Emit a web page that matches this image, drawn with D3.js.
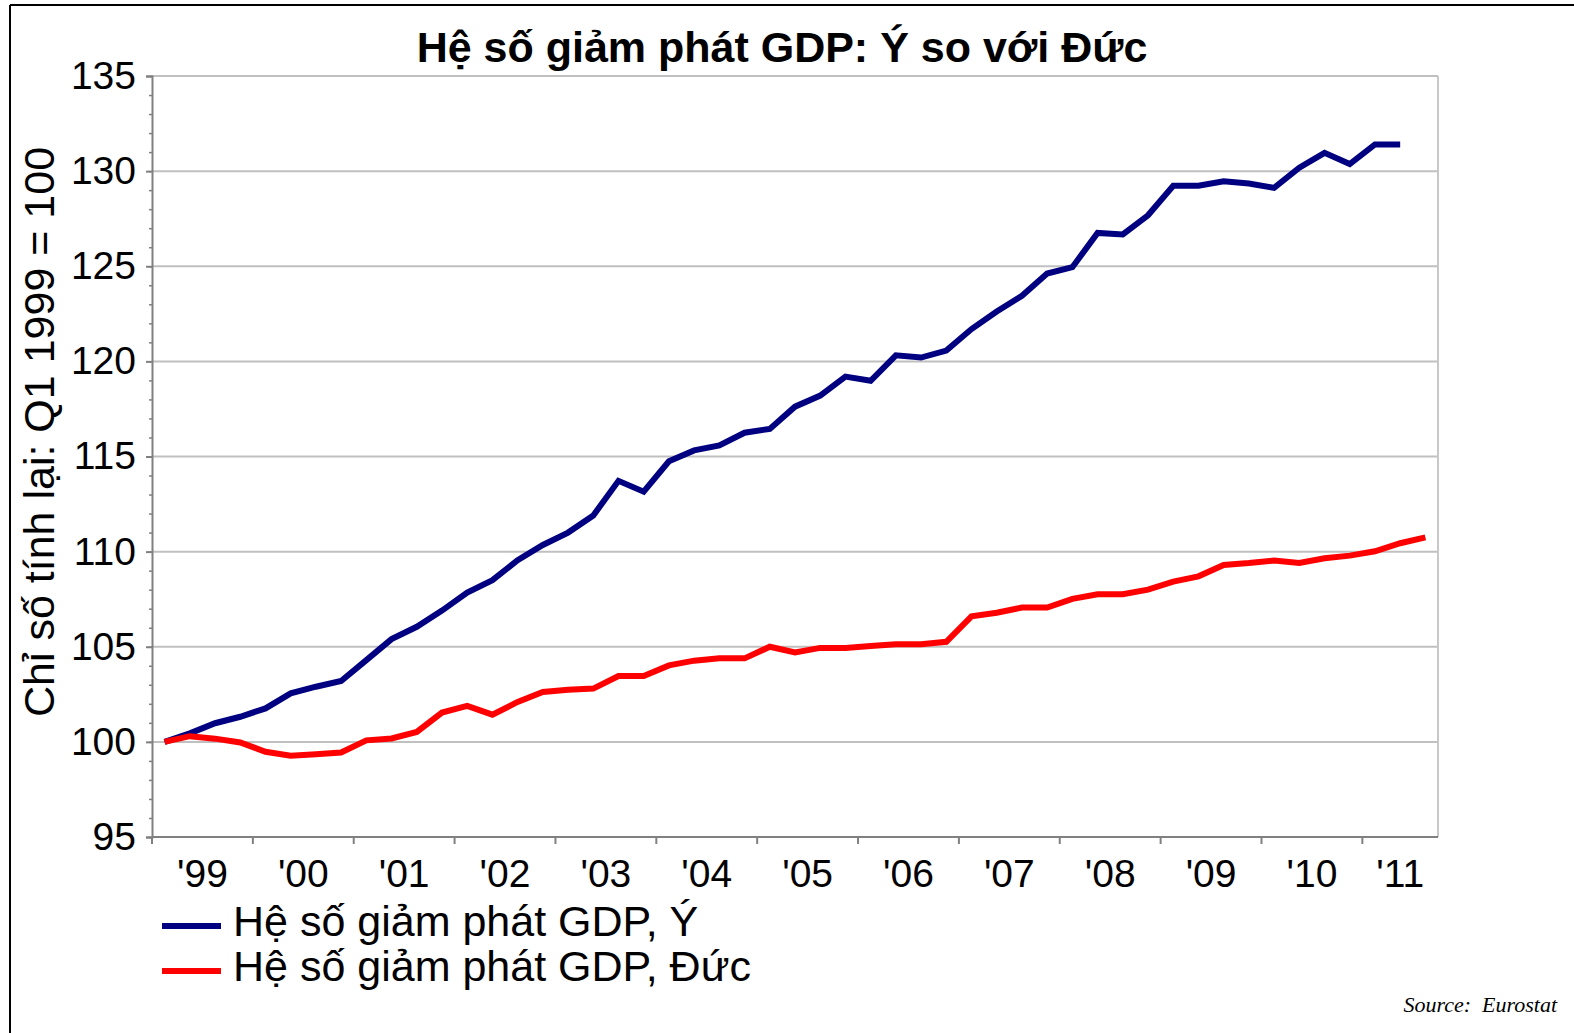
<!DOCTYPE html>
<html>
<head>
<meta charset="utf-8">
<script src="https://cdn.jsdelivr.net/npm/d3@7"></script>
<style>
  body { margin: 0; background: #fff; }
  svg { display: block; font-family: Arial, "Liberation Sans", sans-serif; }
</style>
</head>
<body>
<svg id="chart"></svg>
<script>
// Quarterly GDP deflator, Q1 1999 = 100
const years = ["'99", "'00", "'01", "'02", "'03", "'04", "'05", "'06", "'07", "'08", "'09", "'10", "'11"];
const quartersShown = 51; // Q1 1999 .. Q3 2011

const italy = [100.0, 100.45, 100.98, 101.32, 101.76, 102.55, 102.9, 103.2, 104.3, 105.4,
    106.05, 106.9, 107.85, 108.5, 109.55, 110.35, 111.0, 111.9, 113.72, 113.15,
    114.75, 115.32, 115.58, 116.25, 116.45, 117.62, 118.2, 119.2, 118.98, 120.32,
    120.2, 120.57, 121.7, 122.62, 123.45, 124.62, 124.95, 126.75, 126.67, 127.68,
    129.23, 129.23, 129.47, 129.35, 129.12, 130.18, 130.96, 130.37, 131.4, 131.4];

const germany = [100.0, 100.3, 100.17, 99.97, 99.48, 99.27, 99.35, 99.44, 100.08, 100.18,
    100.52, 101.54, 101.89, 101.43, 102.1, 102.62, 102.74, 102.8, 103.46, 103.46,
    104.02, 104.27, 104.39, 104.39, 105.0, 104.7, 104.94, 104.94, 105.04, 105.13,
    105.13, 105.26, 106.6, 106.79, 107.06, 107.06, 107.52, 107.76, 107.76, 108.0,
    108.42, 108.7, 109.3, 109.4, 109.53, 109.4, 109.65, 109.79, 110.02, 110.44, 110.75];

const seriesNames = ["Hệ số giảm phát GDP, Ý", "Hệ số giảm phát GDP, Đức"];
const seriesColors = ["#000080", "#ff0000"];
const yTicks = [95, 100, 105, 110, 115, 120, 125, 130, 135];

const width = 1574;
const height = 1033;
const margin = { top: 76, right: 136, bottom: 196, left: 152 };

const svg = d3.select("#chart")
    .attr("width", width)
    .attr("height", height);

// outer frame (top and left edges only are visible)
svg.append("line")
    .attr("x1", 10).attr("x2", width).attr("y1", 5).attr("y2", 5)
    .attr("stroke", "#000").attr("stroke-width", 2);
svg.append("line")
    .attr("x1", 10).attr("x2", 10).attr("y1", 5).attr("y2", height)
    .attr("stroke", "#000").attr("stroke-width", 2);

const x = d3.scaleLinear()
    .domain([0, quartersShown])
    .range([margin.left, width - margin.right]);

const y = d3.scaleLinear()
    .domain([95, 135])
    .range([height - margin.bottom, margin.top]);

// Title
svg.append("text")
    .attr("x", 782)
    .attr("y", 62)
    .attr("text-anchor", "middle")
    .style("font-size", "43px")
    .style("font-weight", "bold")
    .text("Hệ số giảm phát GDP: Ý so với Đức");

// gridlines
svg.append("g")
    .selectAll("line")
    .data(yTicks.slice(1))
    .join("line")
    .attr("x1", x(0))
    .attr("x2", x(quartersShown))
    .attr("y1", d => y(d))
    .attr("y2", d => y(d))
    .attr("stroke", "#c0c0c0")
    .attr("stroke-width", 2);

// right border of plot area
svg.append("line")
    .attr("x1", x(quartersShown)).attr("x2", x(quartersShown))
    .attr("y1", y(135)).attr("y2", y(95))
    .attr("stroke", "#c8c8c8").attr("stroke-width", 2);

// y axis: minor ticks every unit, labelled majors every 5
const yAxis = svg.append("g")
    .attr("transform", `translate(${margin.left},0)`);

yAxis.call(d3.axisLeft(y).tickValues(d3.range(95, 136, 1)).tickSize(3).tickFormat(""))
    .call(g => g.select(".domain").remove())
    .call(g => g.selectAll(".tick line").attr("stroke", "#808080").attr("stroke-width", 1.5));

yAxis.append("g")
    .call(d3.axisLeft(y).tickValues(yTicks).tickSize(6).tickPadding(10).tickFormat(d3.format("d")))
    .call(g => g.select(".domain").attr("stroke", "#808080").attr("stroke-width", 2))
    .call(g => g.selectAll(".tick line").attr("stroke", "#808080").attr("stroke-width", 2))
    .call(g => g.selectAll(".tick text")
        .attr("fill", "#000")
        .style("font-size", "39px")
        .style("font-family", "Arial, 'Liberation Sans', sans-serif"));

// y axis title
svg.append("text")
    .attr("transform", "translate(54,432) rotate(-90)")
    .attr("text-anchor", "middle")
    .style("font-size", "43px")
    .text("Chỉ số tính lại: Q1 1999 = 100");

// x axis: ticks at year boundaries, labels centred in each year
const xAxis = svg.append("g")
    .attr("transform", `translate(0,${y(95)})`);

xAxis.append("line")
    .attr("x1", x(0)).attr("x2", x(quartersShown))
    .attr("stroke", "#808080").attr("stroke-width", 2);

xAxis.selectAll(".xtick")
    .data(d3.range(0, quartersShown, 4))
    .join("line")
    .attr("class", "xtick")
    .attr("x1", d => x(d)).attr("x2", d => x(d))
    .attr("y1", 0).attr("y2", 7)
    .attr("stroke", "#808080").attr("stroke-width", 2);

xAxis.selectAll(".xlabel")
    .data(years)
    .join("text")
    .attr("class", "xlabel")
    .attr("x", (d, i) => x((i * 4 + Math.min(i * 4 + 4, quartersShown)) / 2))
    .attr("y", 50)
    .attr("text-anchor", "middle")
    .style("font-size", "39px")
    .text(d => d);

// lines
const line = d3.line()
    .x((d, i) => x(i + 0.5))
    .y(d => y(d));

[italy, germany].forEach((data, k) => {
    svg.append("path")
        .datum(data)
        .attr("fill", "none")
        .attr("stroke", seriesColors[k])
        .attr("stroke-width", 6)
        .attr("stroke-linejoin", "miter")
        .attr("d", line);
});

// legend
const legend = svg.append("g");
seriesNames.forEach((name, k) => {
    const ly = 926 + k * 45;
    legend.append("line")
        .attr("x1", 162).attr("x2", 221)
        .attr("y1", ly).attr("y2", ly)
        .attr("stroke", seriesColors[k])
        .attr("stroke-width", 6);
    legend.append("text")
        .attr("x", 233)
        .attr("y", ly + 10)
        .style("font-size", "43px")
        .text(name);
});

// source note
svg.append("text")
    .attr("x", 1557)
    .attr("y", 1012)
    .attr("text-anchor", "end")
    .attr("xml:space", "preserve")
    .style("white-space", "pre")
    .style("font-family", "'Times New Roman', 'Liberation Serif', serif")
    .style("font-style", "italic")
    .style("font-size", "22px")
    .text("Source:  Eurostat");
</script>
</body>
</html>
